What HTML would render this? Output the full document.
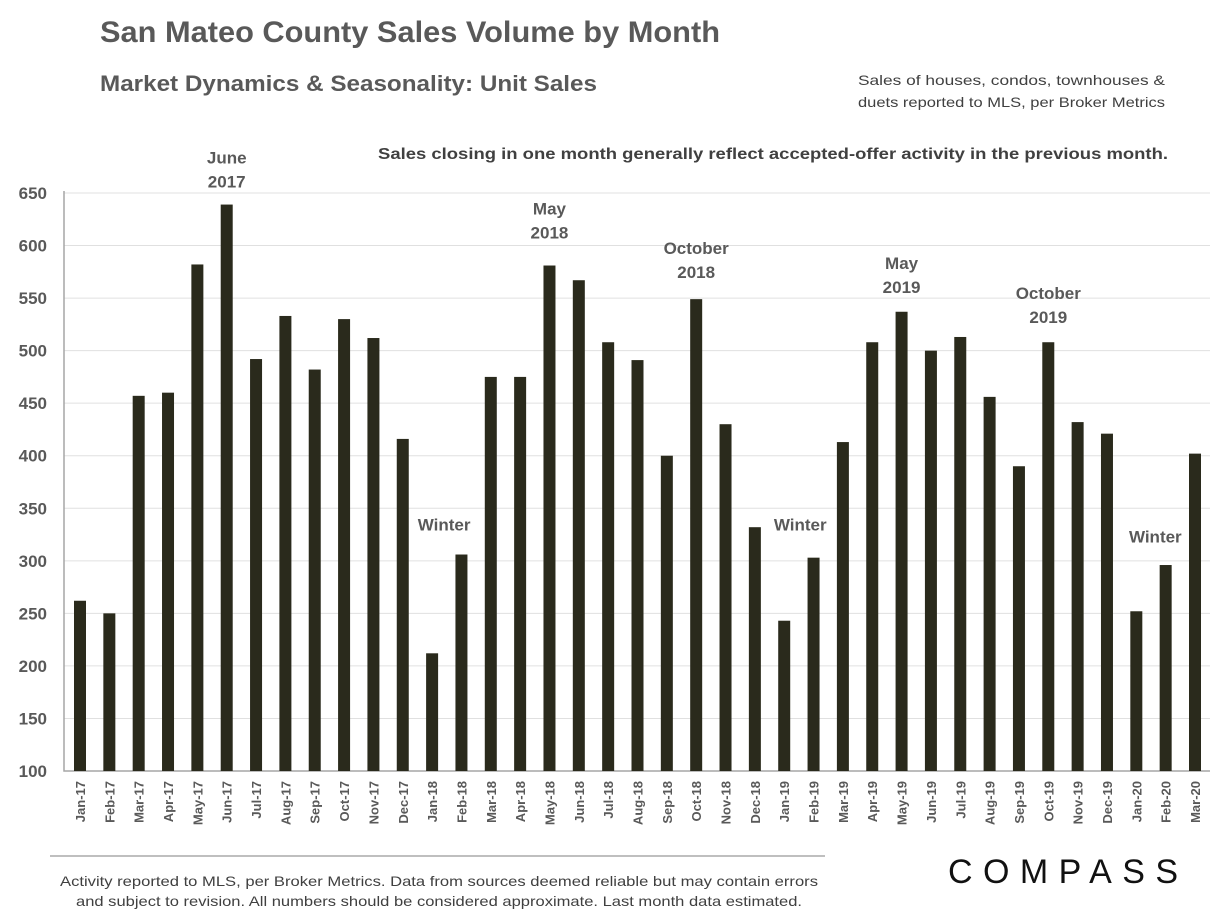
<!DOCTYPE html>
<html><head><meta charset="utf-8"><style>
body{margin:0;background:#fff;width:1228px;height:916px;overflow:hidden;font-family:"Liberation Sans",sans-serif}
svg{display:block}
</style></head><body>
<svg id="c" width="1228" height="916">
<text x="100" y="42" font-size="30" font-weight="bold" fill="#595959" textLength="620" lengthAdjust="spacingAndGlyphs">San Mateo County Sales Volume by Month</text>
<text x="100" y="91" font-size="22" font-weight="bold" fill="#595959" textLength="497" lengthAdjust="spacingAndGlyphs">Market Dynamics  &amp; Seasonality:  Unit Sales</text>
<text x="858" y="85" font-size="14" fill="#404040" textLength="307" lengthAdjust="spacingAndGlyphs">Sales of houses, condos, townhouses &amp;</text>
<text x="858" y="107" font-size="14" fill="#404040" textLength="307" lengthAdjust="spacingAndGlyphs">duets reported to MLS, per Broker Metrics</text>
<text x="378" y="159" font-size="16" font-weight="bold" fill="#404040" textLength="790" lengthAdjust="spacingAndGlyphs">Sales closing in one month generally reflect accepted-offer activity in the previous month.</text>
<g id="grid"></g><g id="bars"></g><g id="labels"></g>
<line x1="50" y1="856" x2="825" y2="856" stroke="#bfbfbf" stroke-width="2"/>
<text x="60" y="886" font-size="14" fill="#404040" textLength="758" lengthAdjust="spacingAndGlyphs">Activity reported to MLS, per Broker Metrics. Data from sources deemed reliable but may contain errors</text>
<text x="76" y="906" font-size="14" fill="#404040" textLength="726" lengthAdjust="spacingAndGlyphs">and subject to revision. All numbers should be considered approximate. Last month data estimated.</text>
<text x="948" y="883" font-size="34" fill="#111" textLength="230" lengthAdjust="spacing">COMPASS</text>
</svg>
<script>
const categories=["Jan-17","Feb-17","Mar-17","Apr-17","May-17","Jun-17","Jul-17","Aug-17","Sep-17","Oct-17","Nov-17","Dec-17","Jan-18","Feb-18","Mar-18","Apr-18","May-18","Jun-18","Jul-18","Aug-18","Sep-18","Oct-18","Nov-18","Dec-18","Jan-19","Feb-19","Mar-19","Apr-19","May-19","Jun-19","Jul-19","Aug-19","Sep-19","Oct-19","Nov-19","Dec-19","Jan-20","Feb-20","Mar-20"];
const sales=[262,250,457,460,582,639,492,533,482,530,512,416,212,306,475,475,581,567,508,491,400,549,430,332,243,303,413,508,537,500,513,456,390,508,432,421,252,296,402];
const yTicks=[100,150,200,250,300,350,400,450,500,550,600,650];
const annotations=[{i:5,t:["June","2017"],dx:0,dy:-41},{i:16,t:["May","2018"],dx:0,dy:-51},{i:21,t:["October","2018"],dx:0,dy:-45},{i:28,t:["May","2019"],dx:0,dy:-43},{i:33,t:["October","2019"],dx:0,dy:-43},{i:12,t:["Winter"],dx:12,dy:-123},{i:24,t:["Winter"],dx:16,dy:-90},{i:36,t:["Winter"],dx:19,dy:-69}];
const NS="http://www.w3.org/2000/svg";
const L=64,R=1210,T=193,B=771,yMin=100,yMax=650;
const y=v=>B-(v-yMin)/(yMax-yMin)*(B-T);
const x0=80,step=(1195-80)/(categories.length-1);
const x=i=>x0+step*i;
function mk(tag,attrs,parent){const e=document.createElementNS(NS,tag);for(const k in attrs)e.setAttribute(k,attrs[k]);parent.appendChild(e);return e;}
const grid=document.getElementById('grid'),bars=document.getElementById('bars'),labels=document.getElementById('labels');
yTicks.forEach(v=>{
 if(v>yMin){const g=mk('line',{x1:L,x2:R,y1:y(v),y2:y(v),stroke:'#e0e0e0','stroke-width':1},grid);
 
 }
 const t=mk('text',{x:47,y:y(v)+6,'font-size':17,'font-weight':'bold',fill:'#595959','text-anchor':'end'},grid);
 t.textContent=v;
 
 
});
const ax=mk('path',{d:`M${L} ${T-2}V${B}H${R}`,stroke:'#a6a6a6','stroke-width':1.5,fill:'none'},grid);


sales.forEach((v,i)=>{
 const r=mk('rect',{x:x(i)-6,y:y(v),width:12,height:B-y(v),fill:'#2a2a1c'},bars);
 
 
 const t=mk('text',{x:0,y:0,'font-size':13,'font-weight':'bold',fill:'#595959','text-anchor':'end',transform:`translate(${x(i)+5},${B+10}) rotate(-90)`},labels);
 t.textContent=categories[i];
 
 
});
annotations.forEach(a=>{
 const cx=x(a.i)+a.dx;
 const by=y(sales[a.i])+a.dy;
 a.t.forEach((s,k)=>{
  const t=mk('text',{x:cx,y:by+k*24,'font-size':17,'font-weight':'bold',fill:'#595959','text-anchor':'middle'},labels);
  t.textContent=s;
  
  
 });
});
</script>
</body></html>
